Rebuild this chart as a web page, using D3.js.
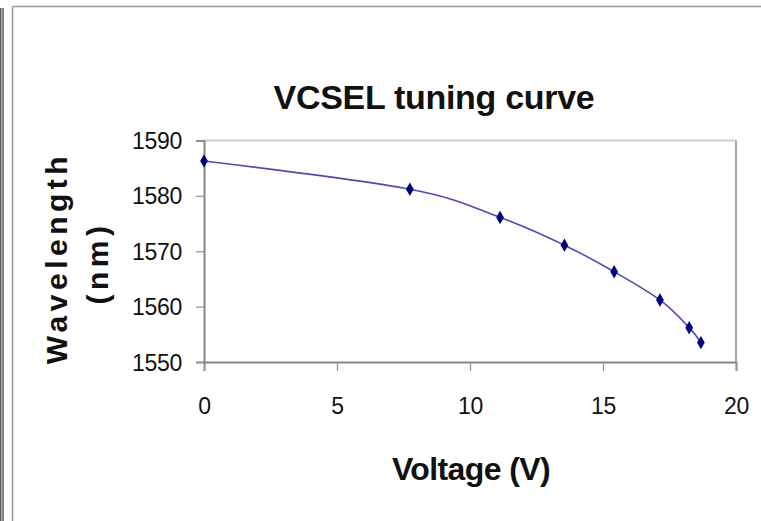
<!DOCTYPE html>
<html>
<head>
<meta charset="utf-8">
<script src="https://cdn.jsdelivr.net/npm/d3@7"></script>
<style>
  html, body { margin: 0; padding: 0; background: #fff; }
  svg { display: block; font-family: "Liberation Sans", Arial, sans-serif; }
</style>
</head>
<body>
<svg id="chart" width="761" height="521"></svg>
<script>
// VCSEL tuning measurements
const voltage = [0, 7.74, 11.13, 13.55, 15.42, 17.14, 18.24, 18.68];
const wavelength = [1586.3, 1581.2, 1576.1, 1571.1, 1566.3, 1561.2, 1556.2, 1553.5];
const xTicks = [0, 5, 10, 15, 20];
const yTicks = [1550, 1560, 1570, 1580, 1590];

const svg = d3.select("#chart");
const W = 761, H = 521;

// outer frame
svg.append("line").attr("x1", 12.5).attr("x2", W).attr("y1", 6.5).attr("y2", 6.5)
  .attr("stroke", "#9a9a9a").attr("stroke-width", 1.5);
svg.append("line").attr("x1", 12.5).attr("x2", 12.5).attr("y1", 6.5).attr("y2", H)
  .attr("stroke", "#9a9a9a").attr("stroke-width", 1.5);
[0.8, 3].forEach(x => svg.append("line").attr("x1", x).attr("x2", x).attr("y1", 8).attr("y2", H)
  .attr("stroke", "#333").attr("stroke-width", 1.2));

const plot = { left: 204, right: 736, top: 140.5, bottom: 362 };

const x = d3.scaleLinear().domain([0, 20]).range([plot.left, plot.right]);
const y = d3.scaleLinear().domain([1550, 1590]).range([plot.bottom, plot.top]);

// plot frame (top and right edges)
svg.append("line").attr("x1", plot.left).attr("x2", plot.right).attr("y1", plot.top).attr("y2", plot.top)
  .attr("stroke", "#cfcfcf").attr("stroke-width", 2);
svg.append("line").attr("x1", plot.right).attr("x2", plot.right).attr("y1", plot.top).attr("y2", plot.bottom)
  .attr("stroke", "#a8a8a8").attr("stroke-width", 2);

// axes
const xAxis = d3.axisBottom(x).tickValues(xTicks).tickSize(9).tickPadding(27).tickFormat(d3.format("d"));
const yAxis = d3.axisLeft(y).tickValues(yTicks).tickSize(8).tickPadding(14).tickFormat(d3.format("d"));

const gx = svg.append("g").attr("transform", `translate(0,${plot.bottom})`).call(xAxis);
const gy = svg.append("g").attr("transform", `translate(${plot.left},0)`).call(yAxis);

[gx, gy].forEach(g => {
  g.select(".domain").attr("stroke", "#858585").attr("stroke-width", 2);
  g.selectAll(".tick line").attr("stroke", "#999").attr("stroke-width", 1.3);
  g.selectAll(".tick text").attr("fill", "#111").attr("font-size", 23)
    .attr("font-family", "'Liberation Sans', Arial, sans-serif").attr("letter-spacing", -0.3);
});
gx.selectAll(".tick text").attr("dy", "0.71em");
gy.selectAll(".tick text").attr("dy", "0.35em");

// tuning curve
const line = d3.line()
  .x((d, i) => x(voltage[i]))
  .y(d => y(d))
  .curve(d3.curveCatmullRom.alpha(0));

svg.append("path").datum(wavelength)
  .attr("d", line)
  .attr("fill", "none")
  .attr("stroke", "#4a4ab8")
  .attr("stroke-width", 1.6);

const diamond = d3.symbol().type(d3.symbolDiamond).size(52);
svg.append("g").selectAll("path").data(wavelength).join("path")
  .attr("d", diamond)
  .attr("transform", (d, i) => `translate(${x(voltage[i])},${y(d)})`)
  .attr("fill", "#000080");

// titles
svg.append("text").attr("x", 434).attr("y", 109).attr("text-anchor", "middle")
  .attr("font-size", 34).attr("font-weight", "bold").attr("letter-spacing", -0.3).attr("fill", "#111")
  .text("VCSEL tuning curve");

svg.append("text").attr("x", 471).attr("y", 480).attr("text-anchor", "middle")
  .attr("font-size", 32).attr("font-weight", "bold").attr("letter-spacing", -0.6).attr("fill", "#111")
  .text("Voltage (V)");

const yTitle = svg.append("text")
  .attr("transform", "rotate(-90)")
  .attr("text-anchor", "middle")
  .attr("font-size", 30).attr("font-weight", "bold").attr("fill", "#111")
  .attr("letter-spacing", 4.5);
yTitle.append("tspan").attr("x", -258).attr("y", 67).text("Wavelength");
yTitle.append("tspan").attr("x", -263).attr("y", 108).text("(nm)");
</script>
</body>
</html>
